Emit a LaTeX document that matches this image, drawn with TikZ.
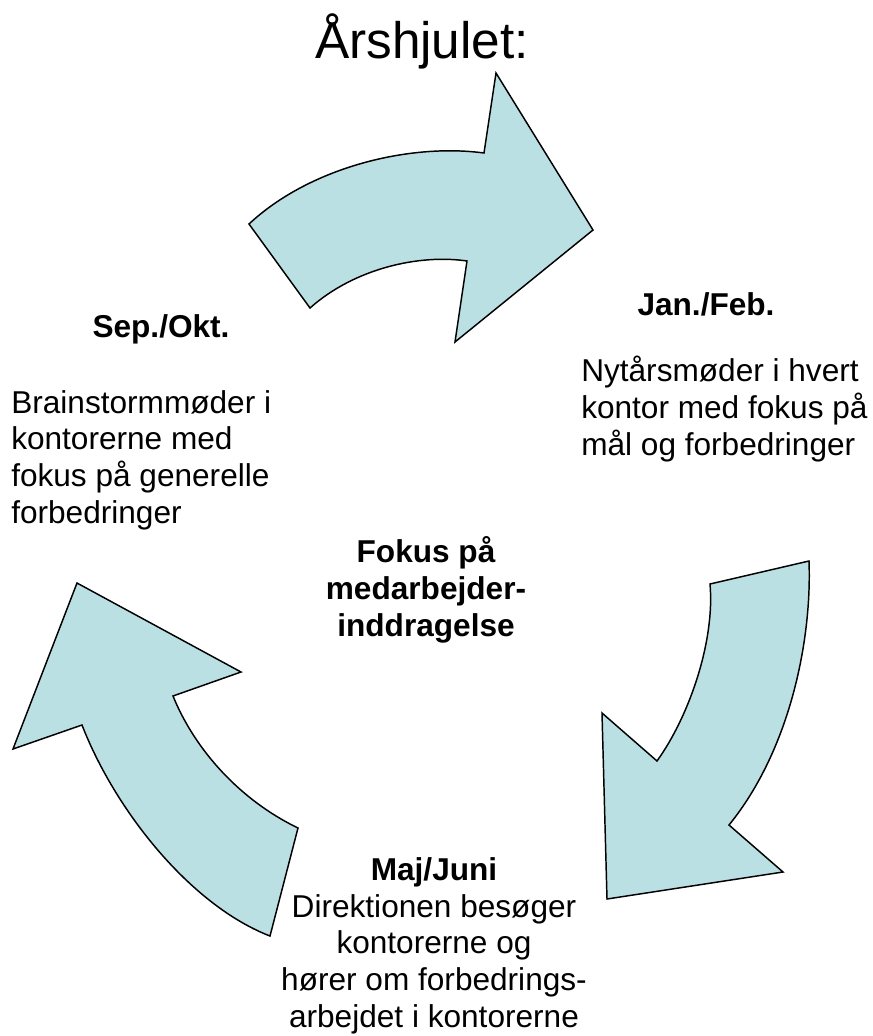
\documentclass[tikz,border=0pt]{standalone}
\usepackage{fontspec}
\setmainfont{Liberation Sans}
\definecolor{wheelblue}{RGB}{187,224,227}
\begin{document}
\begin{tikzpicture}[x=0.75pt, y=-0.75pt,
  wheelarrow/.style={draw=black, line width=1.1pt, line join=miter, fill=wheelblue},
  bodytext/.style={inner sep=0pt, font=\fontsize{23.7}{27.5}\selectfont},
  headtext/.style={bodytext, font=\fontsize{23.7}{27.5}\selectfont\bfseries}]
\useasboundingbox (0,0) rectangle (872,1036);
\node (title) [inner sep=0pt, anchor=base, font=\fontsize{38.5}{46}\selectfont] at (422,58) {Årshjulet:};
% arrow top: Sep./Okt. -> Jan./Feb.
\draw [wheelarrow] (249,224) -- (310,308) .. controls (355,268) and (420,254) .. (467,261)
  -- (455,342) -- (593,230) -- (496,73) -- (484,153) .. controls (410,143) and (310,167) .. cycle;
% arrow right: Jan./Feb. -> Maj/Juni
\draw [wheelarrow] (809,561) -- (710,584) .. controls (715,640) and (690,715) .. (657,761)
  -- (602,713) -- (607,899) -- (783,872) -- (729,825) .. controls (790,750) and (812,640) .. cycle;
% arrow left: Maj/Juni -> Sep./Okt.
\draw [wheelarrow] (270,936) -- (298,828) .. controls (240,800) and (195,750) .. (173,696)
  -- (241,672) -- (77,583) -- (13,749) -- (82,725) .. controls (115,810) and (190,905) .. cycle;
% base of a multi-line node = its last line
\node (sepokt) [headtext, anchor=base] at (161,337) {Sep./Okt.};
\node (septext) [bodytext, anchor=base west, align=left] at (11,523) {Brainstormmøder i\\kontorerne med\\fokus på generelle\\forbedringer};
\node (janfeb) [headtext, anchor=base] at (706,315) {Jan./Feb.};
\node (jantext) [bodytext, anchor=base west, align=left] at (581,455) {Nytårsmøder i hvert\\kontor med fokus på\\mål og forbedringer};
\node (focus) [headtext, anchor=base, align=center] at (426,636) {Fokus på\\medarbejder-\\inddragelse};
\node (majjuni) [bodytext, anchor=base, align=center] at (434,1027) {{\bfseries Maj/Juni}\\Direktionen besøger\\kontorerne og\\hører om forbedrings-\\arbejdet i kontorerne};
\end{tikzpicture}
\end{document}
